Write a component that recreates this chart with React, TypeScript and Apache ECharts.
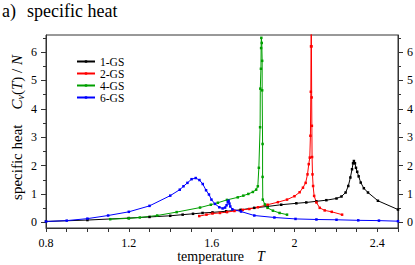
import React, { useEffect, useRef } from "react";
import * as echarts from "echarts";

const FONT = "'Liberation Serif', 'Times New Roman', serif";

const seriesNames = ["1-GS", "2-GS", "4-GS", "6-GS"];
const seriesColors = ["#000000", "#ff0000", "#00a000", "#0000ff"];

const gs1: number[][] = [
  [0.8, 0.03], [1.0, 0.08], [1.2, 0.15], [1.3, 0.19], [1.4, 0.23], [1.46, 0.27],
  [1.51, 0.3], [1.556, 0.33], [1.604, 0.35], [1.67, 0.39], [1.74, 0.44], [1.806, 0.51],
  [1.871, 0.56], [1.936, 0.62], [2.009, 0.67], [2.057, 0.7], [2.106, 0.74], [2.154, 0.78],
  [2.203, 0.84], [2.227, 0.91], [2.247, 1.05], [2.26, 1.28], [2.27, 1.58], [2.278, 1.87],
  [2.283, 2.08], [2.287, 2.16], [2.292, 2.08], [2.297, 1.92], [2.303, 1.78], [2.31, 1.62],
  [2.32, 1.4], [2.335, 1.2], [2.355, 1.05], [2.403, 0.76], [2.5, 0.45],
];

const gs2: number[][] = [
  [1.54, 0.22], [1.575, 0.27], [1.604, 0.31], [1.64, 0.33], [1.674, 0.36], [1.71, 0.4],
  [1.75, 0.44], [1.782, 0.47], [1.823, 0.53], [1.87, 0.62], [1.92, 0.71], [1.964, 0.8],
  [2.0, 0.92], [2.025, 1.06], [2.041, 1.22], [2.054, 1.39], [2.063, 1.69], [2.069, 2.05],
  [2.074, 2.28], [2.077, 3.05], [2.079, 4.6], [2.08, 6.2], [2.081, 8.5], [2.082, 6.2],
  [2.083, 4.4], [2.084, 3.4], [2.085, 2.3], [2.087, 1.69], [2.09, 1.28], [2.095, 0.93],
  [2.106, 0.7], [2.122, 0.51], [2.146, 0.42], [2.18, 0.37], [2.23, 0.27],
];

const gs4: number[][] = [
  [1.11, 0.11], [1.2, 0.14], [1.253, 0.17], [1.337, 0.24], [1.431, 0.36], [1.544, 0.52],
  [1.596, 0.62], [1.63, 0.69], [1.674, 0.79], [1.726, 0.88], [1.753, 0.94], [1.777, 1.0],
  [1.799, 1.07], [1.815, 1.15], [1.823, 1.27], [1.828, 1.92], [1.834, 3.35], [1.835, 4.71],
  [1.838, 5.41], [1.839, 6.14], [1.84, 6.5], [1.842, 6.32], [1.844, 5.69], [1.844, 4.65],
  [1.846, 2.76], [1.846, 1.6], [1.847, 0.8], [1.857, 0.63], [1.87, 0.51], [1.896, 0.41],
  [1.928, 0.33], [1.964, 0.27],
];

const gs6: number[][] = [
  [0.8, 0.03], [0.9, 0.06], [1.0, 0.13], [1.1, 0.24], [1.2, 0.37], [1.3, 0.58], [1.4, 0.94],
  [1.446, 1.15], [1.464, 1.27], [1.483, 1.39], [1.503, 1.52], [1.523, 1.56], [1.541, 1.49],
  [1.557, 1.35], [1.573, 1.13], [1.587, 0.98], [1.599, 0.8], [1.616, 0.65], [1.637, 0.53],
  [1.653, 0.49], [1.665, 0.52], [1.672, 0.6], [1.678, 0.72], [1.682, 0.76], [1.686, 0.66],
  [1.69, 0.56], [1.7, 0.46], [1.742, 0.38], [1.806, 0.24], [1.903, 0.17], [2.005, 0.12],
  [2.106, 0.1], [2.203, 0.09], [2.308, 0.07], [2.408, 0.06], [2.5, 0.04],
];

const xLabelValues = [0.8, 1.2, 1.6, 2.0, 2.4];
const xTickValues = [0.8, 0.9, 1.0, 1.1, 1.2, 1.3, 1.4, 1.5, 1.6, 1.7, 1.8, 1.9, 2.0, 2.1, 2.2, 2.3, 2.4, 2.5];
const yMajorValues = [0, 1, 2, 3, 4, 5, 6];
const yMinorValues = [0.5, 1.5, 2.5, 3.5, 4.5, 5.5, 6.5];

const X_MIN = 0.8;
const X_MAX = 2.5;
const Y_MIN = -0.2;
const Y_MAX = 6.6;

const AXIS_COLOR = "#333";

export default function App() {
  const ref = useRef<HTMLDivElement>(null);

  useEffect(() => {
    document.body.style.margin = "0";
    if (!ref.current) return;
    const chart = echarts.init(ref.current, null, { renderer: "svg" });

    const labelStyle = { fontFamily: FONT, fontSize: 12, color: "#000", lineHeight: 12 };

    const yAxisBase = (position: "left" | "right", major: boolean) => ({
      type: "value",
      position,
      min: Y_MIN,
      max: Y_MAX,
      axisLine: major
        ? { show: true, onZero: false, lineStyle: { color: AXIS_COLOR, width: 1 } }
        : { show: false, onZero: false },
      axisTick: {
        show: true,
        inside: false,
        length: major ? 5 : 3,
        customValues: major ? yMajorValues : yMinorValues,
        lineStyle: { color: AXIS_COLOR, width: 1 },
      },
      axisLabel: major
        ? {
            show: true,
            customValues: yMajorValues,
            margin: 9,
            formatter: (v: number) => String(Math.round(v)),
            ...labelStyle,
          }
        : { show: false },
      splitLine: { show: false },
    });

    const option: any = {
      animation: false,
      grid: {
        left: 46,
        right: 17,
        top: 35,
        bottom: 37,
        show: true,
        borderColor: AXIS_COLOR,
        borderWidth: 1,
        backgroundColor: "transparent",
        containLabel: false,
        outerBoundsMode: "none",
      },
      legend: {
        orient: "vertical",
        left: 76,
        top: 55.5,
        itemWidth: 18,
        itemHeight: 3,
        itemGap: 0,
        padding: 0,
        data: seriesNames,
        textStyle: { fontFamily: FONT, fontSize: 11.5, color: "#000", lineHeight: 11.6 },
      },
      xAxis: [
        {
          type: "value",
          position: "bottom",
          min: X_MIN,
          max: X_MAX,
          axisLine: { show: true, onZero: false, lineStyle: { color: AXIS_COLOR, width: 1 } },
          axisTick: {
            show: true,
            length: 4,
            customValues: xTickValues,
            lineStyle: { color: AXIS_COLOR, width: 1 },
          },
          axisLabel: {
            show: true,
            customValues: xLabelValues,
            margin: 9,
            formatter: (v: number) => String(Math.round(v * 10) / 10),
            ...labelStyle,
          },
          splitLine: { show: false },
        },
      ],
      yAxis: [
        yAxisBase("left", true),
        yAxisBase("left", false),
        yAxisBase("right", true),
        yAxisBase("right", false),
      ],
      graphic: [
        {
          type: "text",
          x: 2,
          y: 10.5,
          style: {
            text: "{t|a)}{s|specific heat}",
            verticalAlign: "middle",
            rich: {
              t: { fontFamily: FONT, fontSize: 18, color: "#000", lineHeight: 18, padding: [0, 11, 0, 0] },
              s: { fontFamily: FONT, fontSize: 18, color: "#000", lineHeight: 18 },
            },
          },
        },
        {
          type: "text",
          x: 17,
          y: 127.5,
          rotation: Math.PI / 2,
          style: {
            text: "{g|specific heat}{i|C}{sub|v}{n|(}{i|T}{n|) / }{i|N}",
            align: "center",
            verticalAlign: "middle",
            rich: {
              g: { fontFamily: FONT, fontSize: 15, color: "#000", lineHeight: 16, padding: [0, 15, 0, 0] },
              n: { fontFamily: FONT, fontSize: 15, color: "#000", lineHeight: 16 },
              i: { fontFamily: FONT, fontSize: 15, fontStyle: "italic", color: "#000", lineHeight: 16 },
              sub: {
                fontFamily: FONT,
                fontSize: 10,
                fontStyle: "italic",
                color: "#000",
                lineHeight: 7,
                verticalAlign: "bottom",
              },
            },
          },
        },
        {
          type: "text",
          x: 221,
          y: 256.5,
          style: {
            text: "{n|temperature}{i|T}",
            align: "center",
            verticalAlign: "middle",
            rich: {
              n: { fontFamily: FONT, fontSize: 14, color: "#000", lineHeight: 12, padding: [0, 13, 0, 0] },
              i: { fontFamily: FONT, fontSize: 14, fontStyle: "italic", color: "#000", lineHeight: 12 },
            },
          },
        },
      ],
      series: [gs1, gs2, gs4, gs6].map((d, i) => ({
        name: seriesNames[i],
        type: "line",
        data: d,
        xAxisIndex: 0,
        yAxisIndex: 0,
        clip: true,
        symbol: "rect",
        symbolSize: 2.5,
        showSymbol: true,
        color: seriesColors[i],
        itemStyle: { color: seriesColors[i] },
        lineStyle: { color: seriesColors[i], width: 1 },
        emphasis: { disabled: true },
      })),
    };

    chart.setOption(option);
    return () => {
      chart.dispose();
    };
  }, []);

  return (
    <div
      ref={ref}
      style={{ position: "absolute", left: 0, top: 0, width: 415, height: 265 }}
    />
  );
}
